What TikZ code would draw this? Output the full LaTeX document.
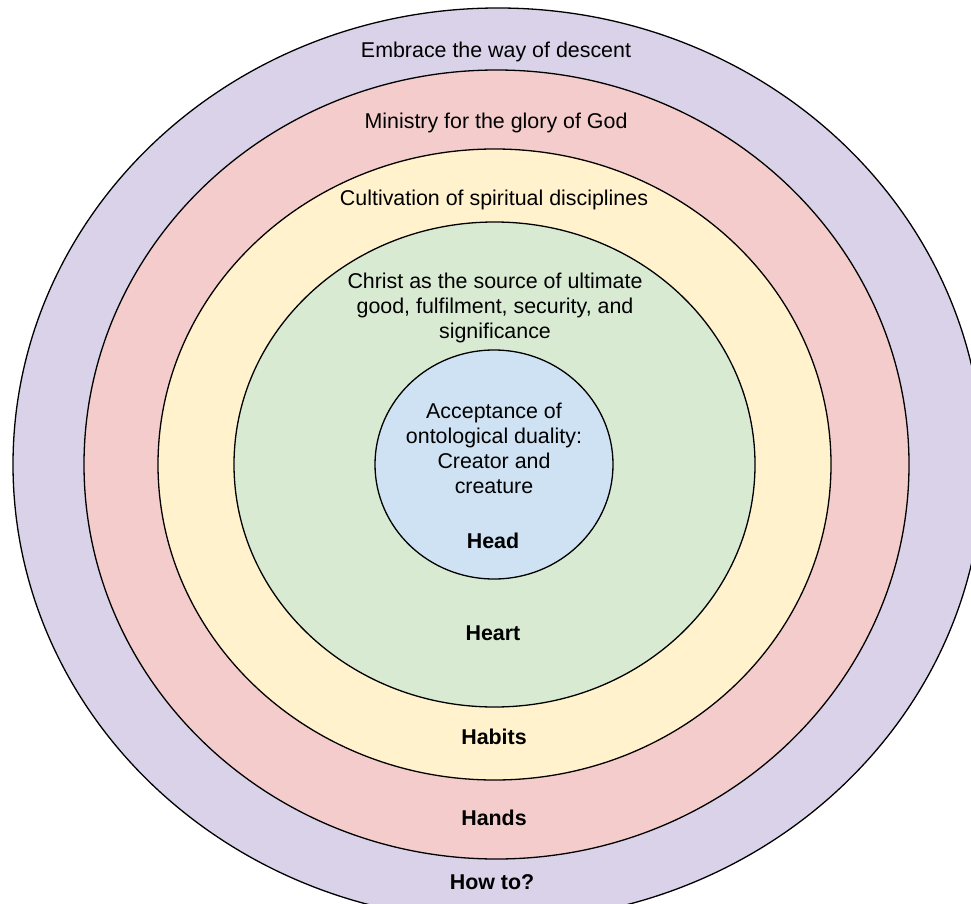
\documentclass[tikz,border=0pt]{standalone}
\usepackage{fontspec}
\setmainfont{Liberation Sans}
\usetikzlibrary{positioning}

\begin{document}
\begin{tikzpicture}[x=1pt, y=-1pt,
		ring/.style={draw=black, line width=1.3pt},
		lbl/.style={inner sep=0pt, align=center},
		key/.style={inner sep=0pt, font=\bfseries}
		]
		\definecolor{mpurple}{HTML}{D9D2E9}
		\definecolor{mred}{HTML}{F4CCCC}
		\definecolor{myellow}{HTML}{FFF2CC}
		\definecolor{mgreen}{HTML}{D9EAD3}
		\definecolor{mblue}{HTML}{CFE2F3}
		\fontsize{21.4}{25}\selectfont

		\useasboundingbox (0,0) rectangle (971,904);
		\clip (0,0) rectangle (971,904);

		% Rings, outside in
		\filldraw[ring, fill=mpurple] (498,464.5) ellipse [x radius=485pt, y radius=456.5pt];
		\filldraw[ring, fill=mred] (496.5,464.5) ellipse [x radius=412.5pt, y radius=394.5pt];
		\filldraw[ring, fill=myellow] (494.5,464.5) ellipse [x radius=336.5pt, y radius=315.5pt];
		\filldraw[ring, fill=mgreen] (494.5,464.5) ellipse [x radius=260.5pt, y radius=242.5pt];
		\filldraw[ring, fill=mblue] (494,464.5) ellipse [x radius=119pt, y radius=114.5pt];

		% Ring texts
		\node[lbl] (descent) at (496,52) {Embrace the way of descent};
		\node[lbl] (ministry) at (496,123) {Ministry for the glory of God};
		\node[lbl] (disciplines) at (494,200) {Cultivation of spiritual disciplines};
		\node[lbl] (christ) at (495,308) {Christ as the source of ultimate\\good, fulfilment, security, and\\significance};
		\node[lbl] (duality) at (494,448) {Acceptance of\\ontological duality:\\Creator and\\creature};

		% Keys
		\node[key] (head) at (493,541) {Head};
		\node[key] (heart) at (493,633) {Heart};
		\node[key] (habits) at (494,737) {Habits};
		\node[key] (hands) at (494,818) {Hands};
		\node[key] (howto) at (492,882) {How to?};
	\end{tikzpicture}
\end{document}
